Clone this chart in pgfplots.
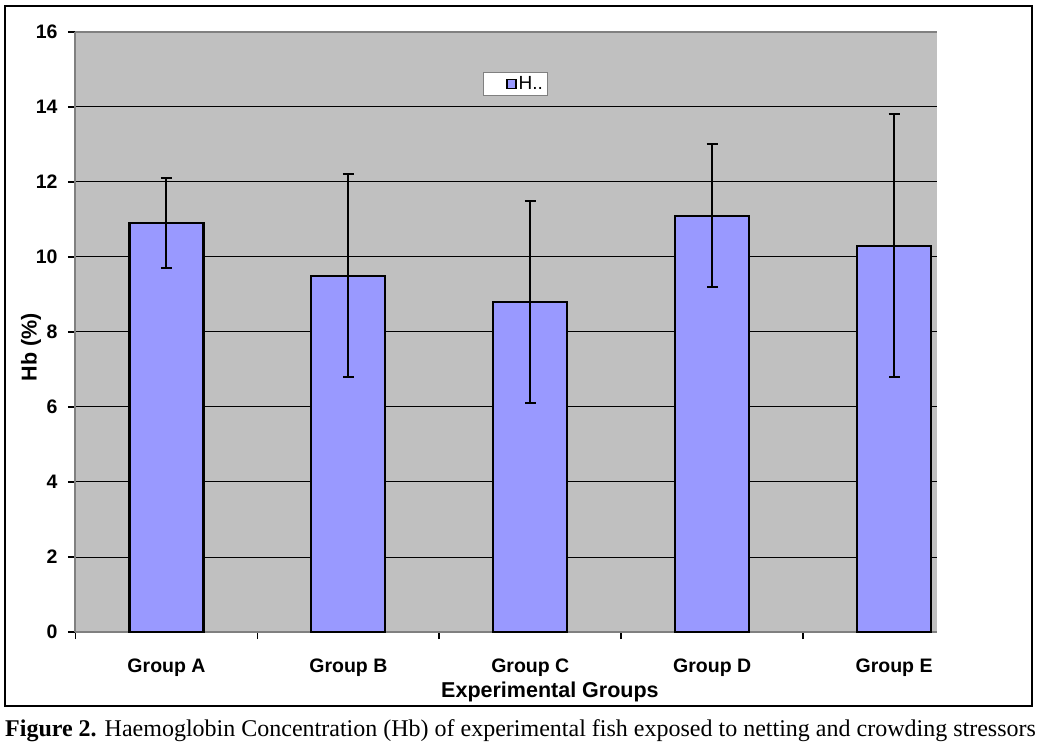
\documentclass[border=0pt]{standalone}
\usepackage{pgfplots}
\pgfplotsset{compat=1.18}
\usepackage{fontspec}
\setmainfont{Liberation Serif}
\newfontfamily\arial{Liberation Sans}
\definecolor{bggray}{HTML}{C0C0C0}
\definecolor{barblue}{HTML}{9999FF}
\definecolor{axgray}{HTML}{808080}
\begin{document}
\begin{tikzpicture}
\useasboundingbox (-75pt,-117pt) rectangle (965pt,632pt);
\begin{axis}[
  at={(0pt,0pt)}, anchor=south west,
  scale only axis, width=862pt, height=600pt,
  xmin=-0.503, xmax=4.236, ymin=0, ymax=16,
  axis lines*=left,
  axis line style={-, axgray, line width=2pt},
  axis background/.style={fill=bggray},
  /pgf/number format/assume math mode=true,
  ytick={0,2,...,16},
  xtick={-0.5,0.5,1.5,2.5,3.5},
  xticklabels={,,,,},
  extra x ticks={0,1,2,3,4},
  extra x tick labels={Group A,Group B,Group C,Group D,Group E},
  extra x tick style={major tick length=0pt, xticklabel style={yshift=-23pt}},
  tick align=outside,
  major tick length=7pt,
  tick style={black, line width=1.8pt},
  ymajorgrids,
  grid style={black, line width=1pt},
  ticklabel style={font=\arial\bfseries\fontsize{19.5}{22}\selectfont},
  yticklabel style={xshift=-7pt},
  xlabel={Experimental Groups},
  ylabel={Hb (\%)},
  label style={font=\arial\bfseries\fontsize{21.5}{24}\selectfont},
  xlabel style={at={(axis description cs:0.551,-0.0995)}, anchor=center},
  ylabel style={at={(axis description cs:-0.051,0.475)}, anchor=center},
  legend style={at={(axis description cs:0.5104,0.9133)}, anchor=center,
    draw=axgray, fill=white, line width=0.8pt,
    font=\arial\fontsize{19}{21}\selectfont, inner xsep=2pt, inner ysep=2.5pt},
  legend image code/.code={%
    \path (-21pt,0pt);
    \draw[fill=barblue, draw=black, line width=1.3pt] (0pt,-4.5pt) rectangle (9pt,4.5pt);},
]
\addplot[ybar, bar width=74pt, fill=barblue, draw=black, line width=2.2pt,
  error bars/.cd, y dir=both, y explicit,
  error bar style={line width=2pt, black},
  error mark options={rotate=90, line width=2pt, mark size=5.5pt, black}]
  table[x=x, y=y, y error=e] {
  x y e
  0 10.9 1.2
  1 9.5 2.7
  2 8.8 2.7
  3 11.1 1.9
  4 10.3 3.5
  };
\addlegendentry{H..}
\end{axis}
\draw[axgray, line width=2pt] (0pt,600pt) -- (862pt,600pt);
\draw[black, line width=1.5pt] (-70pt,-74pt) rectangle (957pt,626pt);
\node[anchor=base west, inner sep=0pt, font=\fontsize{24}{28}\selectfont] at (-70pt,-104pt)
  {\textbf{Figure 2.} Haemoglobin Concentration (Hb) of experimental fish exposed to netting and crowding stressors};
\end{tikzpicture}
\end{document}
